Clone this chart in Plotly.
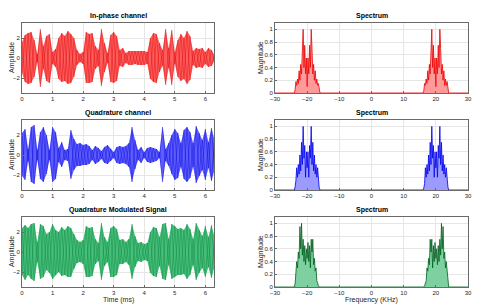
import numpy as np
import plotly.graph_objects as go

# ---------------- data ----------------
TIME_MS = np.round(np.arange(64) * 0.1, 1)  # sample instants 0.0 .. 6.3 ms

I_UPPER = [1.6, 2.3, 2.5, 2.6, 1.8, 0.4, 2.9, 1.2, 2.2, 2.4, 0.6, 0.9, 2.0, 2.5, 2.2, 2.7,
           2.4, 2.0, 0.8, 0.4, 0.6, 2.6, 2.4, 2.5, 1.2, 0.8, 2.9, 1.5, 0.5, 2.3, 2.6, 2.2,
           0.8, 1.0, 0.5, 0.7, 0.7, 0.7, 0.7, 0.7, 0.7, 0.6, 2.0, 2.5, 2.4, 1.5, 0.8, 2.9,
           1.0, 2.8, 0.6, 1.8, 2.4, 2.0, 2.7, 2.2, 0.7, 1.0, 0.9, 1.0, 0.6, 1.0, 0.8, 0.3]
I_LOWER = [-1.5, -2.4, -2.6, -2.5, -1.9, -0.4, -2.9, -1.1, -2.3, -2.5, -0.6, -0.9, -2.1, -2.4, -2.3, -2.6,
           -2.5, -1.9, -0.7, -0.4, -0.6, -2.5, -2.5, -2.4, -1.1, -0.8, -2.8, -1.4, -0.5, -2.4, -2.5, -2.3,
           -0.8, -0.9, -0.5, -0.7, -0.7, -0.6, -0.7, -0.7, -0.7, -0.6, -2.1, -2.4, -2.5, -1.4, -0.8, -2.7,
           -1.0, -2.7, -0.6, -1.9, -2.3, -2.1, -2.6, -2.2, -0.7, -1.0, -0.9, -1.0, -0.6, -0.9, -0.8, -0.3]

Q_UPPER = [2.2, 2.6, 0.6, 2.8, 3.0, 0.5, 2.3, 2.8, 2.0, 0.5, 2.8, 2.3, 0.7, 1.3, 0.5, 0.6,
           2.5, 1.6, 1.1, 1.2, 1.0, 1.1, 0.9, 0.5, 0.9, 0.7, 0.4, 0.8, 1.0, 0.6, 0.3, 0.8,
           0.9, 0.8, 0.9, 1.2, 2.8, 1.5, 0.5, 0.8, 0.3, 0.7, 0.8, 0.7, 0.6, 0.3, 2.8, 0.6,
           1.2, 2.0, 2.6, 2.2, 1.2, 2.5, 2.8, 2.3, 1.2, 2.9, 2.2, 1.5, 2.6, 1.3, 2.7, 1.5]
Q_LOWER = [-2.1, -2.5, -0.6, -2.7, -2.9, -0.5, -2.4, -2.7, -1.9, -0.5, -2.7, -2.4, -0.7, -1.2, -0.5, -0.6,
           -2.4, -1.5, -1.1, -1.1, -1.0, -1.0, -0.9, -0.5, -0.9, -0.7, -0.4, -0.8, -0.9, -0.6, -0.3, -0.8,
           -0.9, -0.8, -0.9, -1.2, -2.7, -1.4, -0.5, -0.8, -0.3, -0.7, -0.8, -0.7, -0.6, -0.3, -2.7, -0.6,
           -1.1, -1.9, -2.5, -2.3, -1.2, -2.4, -2.7, -2.3, -1.2, -2.8, -2.1, -1.5, -2.5, -1.3, -2.6, -1.5]

M_UPPER = [2.4, 2.7, 2.4, 2.8, 2.9, 1.0, 2.8, 2.6, 1.8, 2.0, 2.8, 2.2, 2.0, 2.5, 2.2, 2.6,
           2.4, 1.8, 1.2, 1.0, 1.2, 2.6, 2.4, 2.5, 1.3, 0.9, 2.9, 1.5, 1.0, 2.4, 2.6, 2.3,
           1.2, 1.3, 1.0, 1.3, 2.8, 1.6, 0.9, 1.0, 0.8, 0.9, 2.0, 2.5, 2.4, 1.5, 2.8, 2.9,
           1.3, 2.8, 2.6, 2.3, 2.4, 2.2, 2.8, 2.3, 1.3, 2.9, 2.2, 1.6, 2.6, 1.5, 2.7, 1.5]
M_LOWER = [-2.3, -2.8, -2.3, -2.7, -2.9, -1.0, -2.7, -2.5, -1.8, -2.1, -2.7, -2.3, -2.0, -2.4, -2.3, -2.5,
           -2.5, -1.7, -1.1, -1.0, -1.2, -2.5, -2.5, -2.4, -1.2, -0.9, -2.8, -1.4, -1.0, -2.5, -2.5, -2.3,
           -1.2, -1.2, -1.0, -1.3, -2.7, -1.5, -0.9, -1.0, -0.8, -0.9, -2.1, -2.4, -2.5, -1.4, -2.7, -2.8,
           -1.3, -2.7, -2.5, -2.3, -2.3, -2.2, -2.7, -2.3, -1.3, -2.8, -2.1, -1.6, -2.5, -1.5, -2.6, -1.5]

# spectrum lobes sampled every 0.25 kHz
F_NEG = np.round(np.arange(33) * 0.25 - 24.0, 2)   # -24 .. -16 kHz
F_POS = np.round(np.arange(33) * 0.25 + 16.0, 2)   #  16 .. 24 kHz
F_EDGES_L = [-30.0, -24.25]
F_EDGES_M = [-15.75, 15.75]
F_EDGES_R = [24.25, 30.0]

RED_NEG = [0.00, 0.05, 0.18, 0.12, 0.22, 0.15, 0.35, 0.20, 0.45, 0.30, 0.70, 1.00, 0.40, 0.75, 0.30, 0.55, 0.10,
           0.55, 0.30, 0.75, 0.40, 1.00, 0.70, 0.30, 0.45, 0.20, 0.35, 0.15, 0.22, 0.12, 0.15, 0.03, 0.00]
RED_POS = [0.00, 0.03, 0.15, 0.12, 0.22, 0.15, 0.35, 0.20, 0.45, 0.30, 0.70, 1.00, 0.40, 0.75, 0.30, 0.55, 0.10,
           0.55, 0.30, 0.75, 0.40, 1.00, 0.70, 0.30, 0.45, 0.20, 0.35, 0.12, 0.22, 0.12, 0.18, 0.05, 0.00]
BLUE_NEG = [0.00, 0.05, 0.15, 0.35, 0.20, 0.40, 0.25, 0.55, 0.30, 0.75, 0.40, 1.00, 0.50, 0.70, 0.20, 0.60, 0.35,
            0.60, 0.20, 0.70, 0.50, 1.00, 0.40, 0.75, 0.30, 0.55, 0.25, 0.40, 0.20, 0.35, 0.10, 0.03, 0.00]
BLUE_POS = [0.00, 0.03, 0.10, 0.35, 0.20, 0.40, 0.25, 0.55, 0.30, 0.75, 0.40, 1.00, 0.50, 0.70, 0.20, 0.60, 0.35,
            0.60, 0.20, 0.70, 0.50, 1.00, 0.40, 0.75, 0.30, 0.55, 0.25, 0.40, 0.20, 0.35, 0.15, 0.05, 0.00]
GREEN_NEG = [0.00, 0.05, 0.25, 0.40, 0.30, 0.55, 0.45, 0.95, 0.60, 1.00, 0.50, 0.75, 0.40, 0.65, 0.35, 0.60, 0.45,
             0.70, 0.40, 0.65, 0.30, 0.75, 0.55, 0.75, 0.35, 0.45, 0.25, 0.30, 0.10, 0.05, 0.02, 0.00, 0.00]
GREEN_POS = [0.00, 0.00, 0.02, 0.05, 0.10, 0.30, 0.25, 0.45, 0.35, 0.75, 0.55, 0.75, 0.30, 0.65, 0.40, 0.70, 0.45,
             0.60, 0.35, 0.65, 0.40, 0.75, 0.50, 1.00, 0.60, 0.95, 0.45, 0.55, 0.30, 0.40, 0.25, 0.05, 0.00]

TIME_TICKS = [0, 1, 2, 3, 4, 5, 6]
AMP_TICKS = [-2, 0, 2]
FREQ_TICKS = [-30, -20, -10, 0, 10, 20, 30]
MAG_TICKS = [0, 0.2, 0.4, 0.6, 0.8, 1]

TITLES_LEFT = ["In-phase channel", "Quadrature channel", "Quadrature Modulated Signal"]
TITLE_RIGHT = "Spectrum"

# ---------------- figure ----------------
W, H = 492, 306
LX = [22 / W, 214 / W]
RX = [275 / W, 468 / W]
ROWS = [[1 - 93 / H, 1 - 23 / H], [1 - 190 / H, 1 - 120 / H], [1 - 287 / H, 1 - 217 / H]]

fig = go.Figure()

time_sets = [(I_UPPER, I_LOWER, "#ff5c5c", "#d40000"),
             (Q_UPPER, Q_LOWER, "#5c5cff", "#0000d0"),
             (M_UPPER, M_LOWER, "#45c07a", "#0c7d3a")]
spec_sets = [(RED_NEG, RED_POS, "#ff9a9a", "#ee0000"),
             (BLUE_NEG, BLUE_POS, "#9a9aff", "#0000ee"),
             (GREEN_NEG, GREEN_POS, "#7fd0a0", "#005f20")]

t = list(TIME_MS)
for r in range(3):
    up, lo, fillc, linec = time_sets[r]
    xa = "x%d" % (2 * r + 1) if r > 0 else "x"
    ya = "y%d" % (2 * r + 1) if r > 0 else "y"
    fig.add_trace(go.Scatter(x=t + t[::-1], y=list(up) + list(lo)[::-1], fill="toself",
                             fillcolor=fillc, line=dict(width=0), mode="lines",
                             xaxis=xa, yaxis=ya, hoverinfo="skip", showlegend=False))
    za = [up[i] if i % 2 == 0 else lo[i] for i in range(len(t))]
    zb = [lo[i] if i % 2 == 0 else up[i] for i in range(len(t))]
    for z in (za, zb):
        fig.add_trace(go.Scatter(x=t, y=z, mode="lines", line=dict(color=linec, width=0.5),
                                 opacity=0.75, xaxis=xa, yaxis=ya, showlegend=False))

    neg, pos, sfill, sline = spec_sets[r]
    xs = "x%d" % (2 * r + 2)
    ys = "y%d" % (2 * r + 2)
    fx = F_EDGES_L + list(F_NEG) + F_EDGES_M + list(F_POS) + F_EDGES_R
    fy = [0, 0] + list(neg) + [0, 0] + list(pos) + [0, 0]
    fig.add_trace(go.Scatter(x=fx, y=fy, mode="lines", fill="tozeroy", fillcolor=sfill,
                             line=dict(color=sline, width=0.8), xaxis=xs, yaxis=ys, showlegend=False))

tickfont = dict(family="Liberation Sans", size=6, color="#262626")
axcommon = dict(showline=True, mirror=True, linecolor="#6a6a6a", linewidth=1, ticks="inside",
                ticklen=2, tickcolor="#6a6a6a", showgrid=True, gridcolor="#e6e6e6", gridwidth=0.5,
                zeroline=False, tickfont=tickfont, automargin=False)

layout = dict(width=W, height=H, margin=dict(l=0, r=0, t=0, b=0, pad=0),
              paper_bgcolor="white", plot_bgcolor="white", showlegend=False)
for r in range(3):
    n1 = 2 * r + 1
    n2 = 2 * r + 2
    k1 = "" if n1 == 1 else str(n1)
    layout["xaxis" + k1] = dict(domain=LX, range=[0, 6.2832], tickvals=TIME_TICKS,
                                anchor="y" + k1, **axcommon)
    layout["yaxis" + k1] = dict(domain=ROWS[r], range=[-3.5, 3.5], tickvals=AMP_TICKS,
                                anchor="x" + k1, **axcommon)
    layout["xaxis" + str(n2)] = dict(domain=RX, range=[-30, 30], tickvals=FREQ_TICKS,
                                     anchor="y" + str(n2), **axcommon)
    layout["yaxis" + str(n2)] = dict(domain=ROWS[r], range=[0, 1.1], tickvals=MAG_TICKS,
                                     anchor="x" + str(n2), **axcommon)
fig.update_layout(**layout)

ann = []
tf = dict(family="Liberation Sans", size=7, color="#000000")
lf = dict(family="Liberation Sans", size=7, color="#262626")
for r in range(3):
    ann.append(dict(text="<b>%s</b>" % TITLES_LEFT[r], x=sum(LX) / 2, y=ROWS[r][1] + 1 / H,
                    xref="paper", yref="paper", xanchor="center", yanchor="bottom",
                    showarrow=False, font=tf))
    ann.append(dict(text="<b>%s</b>" % TITLE_RIGHT, x=sum(RX) / 2, y=ROWS[r][1] + 1 / H,
                    xref="paper", yref="paper", xanchor="center", yanchor="bottom",
                    showarrow=False, font=tf))
    ann.append(dict(text="Amplitude", x=12 / W, y=sum(ROWS[r]) / 2, xref="paper", yref="paper",
                    xanchor="center", yanchor="middle", textangle=-90, showarrow=False, font=lf))
    ann.append(dict(text="Magnitude", x=261 / W, y=sum(ROWS[r]) / 2, xref="paper", yref="paper",
                    xanchor="center", yanchor="middle", textangle=-90, showarrow=False, font=lf))
ann.append(dict(text="Time (ms)", x=sum(LX) / 2, y=1 - 300 / H, xref="paper", yref="paper",
                xanchor="center", yanchor="middle", showarrow=False, font=lf))
ann.append(dict(text="Frequency (KHz)", x=sum(RX) / 2, y=1 - 300 / H, xref="paper", yref="paper",
                xanchor="center", yanchor="middle", showarrow=False, font=lf))
fig.update_layout(annotations=ann)

fig.write_html("out.html", config={"displayModeBar": False},
               post_script="document.body.style.margin='0px';")
